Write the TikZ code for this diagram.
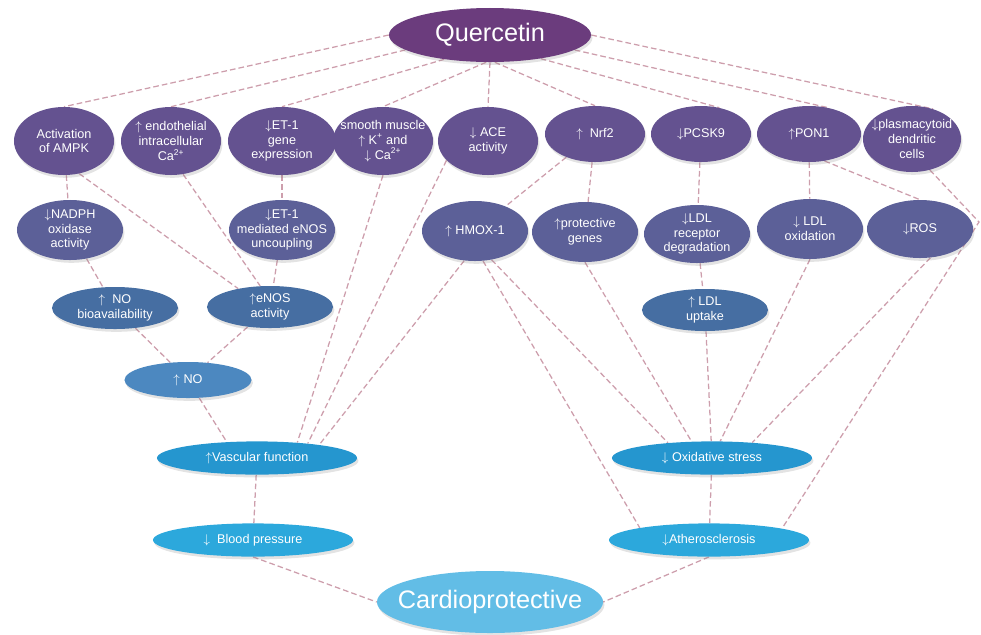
\documentclass[tikz,border=0pt]{standalone}
\usepackage{fontspec}
\setmainfont{Liberation Sans}
\usetikzlibrary{shapes.geometric}
\usetikzlibrary{shadows}
\usetikzlibrary{backgrounds}
\definecolor{qpurple}{RGB}{107,60,125}
\definecolor{ppurple}{RGB}{100,82,144}
\definecolor{bpurple}{RGB}{92,96,152}
\definecolor{steelb}{RGB}{70,110,162}
\definecolor{nob}{RGB}{76,136,192}
\definecolor{midb}{RGB}{37,150,207}
\definecolor{lowb}{RGB}{44,168,220}
\definecolor{cardb}{RGB}{98,189,230}
\definecolor{linkpink}{RGB}{205,158,172}
\tikzset{
    mynode/.style = {ellipse, inner xsep=-12pt, inner ysep=-5pt, text=white, align=center,
      font=\fontsize{9}{10.6}\selectfont,
      drop shadow={opacity=0.22,shadow xshift=1pt,shadow yshift=-2pt}},
    mynodeq/.style = {mynode, fill=qpurple, minimum width=5.05cm, minimum height=1.35cm,
      inner xsep=-25pt, font=\fontsize{18}{22}\selectfont},
    mynodep/.style = {mynode, fill=ppurple, minimum width=2.5cm, minimum height=1.7cm},
    mynodev/.style = {mynode, fill=bpurple, minimum width=2.65cm, minimum height=1.5cm},
    mynodes/.style = {mynode, fill=steelb, minimum width=3.15cm, minimum height=1.05cm},
    mynoden/.style = {mynode, fill=nob, minimum width=3.175cm, minimum height=0.9cm},
    mynodem/.style = {mynode, fill=midb, minimum width=5cm, minimum height=0.83cm},
    mynodel/.style = {mynode, fill=lowb, minimum width=5cm, minimum height=0.83cm},
    mynodec/.style = {mynode, fill=cardb, minimum width=5.65cm, minimum height=1.55cm,
      inner xsep=-25pt, font=\fontsize{18}{22}\selectfont},
    edged/.style = {draw=linkpink, line width=0.9pt, dash pattern=on 4pt off 2.2pt}
}

\begin{document}
\begin{tikzpicture}[x=0.025cm,y=-0.025cm]
\useasboundingbox (0,0) rectangle (981,634);

\node[mynodeq] (q) at (490,35) {Quercetin};

% first row
\node[mynodep] (ampk)   at (64,141)  {Activation\\of AMPK};
\node[mynodep] (endo)   at (171,141) {$\uparrow$ endothelial\\intracellular\\Ca\textsuperscript{2+}};
\node[mynodep, minimum width=2.7cm] (et1) at (282,141) {$\downarrow$ET-1\\gene\\expression};
\node[mynodep] (smooth) at (383,141) {smooth muscle\\$\uparrow$ K\textsuperscript{+} and\\$\downarrow$ Ca\textsuperscript{2+}};
\node[mynodep] (ace)    at (488,141) {$\downarrow$ ACE\\activity};
\node[mynodep, minimum height=1.4cm] (nrf2)  at (595,134) {$\uparrow$\ \ Nrf2};
\node[mynodep, minimum height=1.4cm] (pcsk9) at (701,134) {$\downarrow$PCSK9};
\node[mynodep, minimum height=1.4cm, minimum width=2.6cm] (pon1) at (809,134) {$\uparrow$PON1};
\node[mynodep, minimum height=1.65cm, minimum width=2.45cm] (pdc) at (912,139) {$\downarrow$plasmacytoid\\dendritic\\cells};

% second row
\node[mynodev] (nadph) at (70,230)  {$\downarrow$NADPH\\oxidase\\activity};
\node[mynodev] (et1m)  at (282,230) {$\downarrow$ET-1\\mediated eNOS\\uncoupling};
\node[mynodev] (hmox)  at (475,231) {$\uparrow$ HMOX-1};
\node[mynodev] (prot)  at (585,232) {$\uparrow$protective\\genes};
\node[mynodev, minimum height=1.45cm] (ldlr) at (697,234) {$\downarrow$LDL\\receptor\\degradation};
\node[mynodev] (ldlox) at (810,229) {$\downarrow$ LDL\\oxidation};
\node[mynodev, minimum height=1.45cm] (ros) at (920,229) {$\downarrow$ROS};

% third row
\node[mynodes] (nobio) at (115,308) {$\uparrow$\ \ NO\\bioavailability};
\node[mynodes] (enos)  at (270,307) {$\uparrow$eNOS\\activity};
\node[mynodes] (ldlu)  at (705,310) {$\uparrow$\ LDL\\uptake};
\node[mynoden] (no)    at (188,380) {$\uparrow$ NO};

\node[mynodem] (vasc) at (257,458) {$\uparrow$Vascular function};
\node[mynodem] (oxs)  at (712,458) {$\downarrow$ Oxidative stress};
\node[mynodel] (bp)   at (253,540) {$\downarrow$ \ Blood pressure};
\node[mynodel] (ath)  at (709,540) {$\downarrow$Atherosclerosis};
\node[mynodec] (cardio) at (490,602) {Cardioprotective};

\coordinate (bend) at (979,222);

\begin{scope}[on background layer]
\draw[edged] (q.west) -- (ampk.north);
\draw[edged] (q.190) -- (endo.north);
\draw[edged] (q.208) -- (et1.north);
\draw[edged] (q.262) -- (smooth.north);
\draw[edged] (q.south) -- (ace.north);
\draw[edged] (q.280) -- (nrf2.north);
\draw[edged] (q.335) -- (pcsk9.55);
\draw[edged] (q.350) -- (pon1.55);
\draw[edged] (q.east) -- (pdc.55);

\draw[edged] (ampk) -- (nadph);
\draw[edged] (ampk.295) -- (enos.150);
\draw[edged] (endo.290) -- (enos.115);
\draw[edged] (et1) -- (et1m);
\draw[edged] (et1m) -- (enos);
\draw[edged] (nadph) -- (nobio);
\draw[edged] (nobio) -- (no);
\draw[edged] (enos) -- (no);
\draw[edged] (no) -- (vasc.152);
\draw[edged] (smooth.south) -- (vasc.21);
\draw[edged] (ace.205) -- (vasc.16);
\draw[edged] (hmox.250) -- (vasc.12);
\draw[edged] (vasc) -- (bp);
\draw[edged] (bp.south) -- (cardio.west);

\draw[edged] (nrf2) -- (hmox);
\draw[edged] (nrf2) -- (prot);
\draw[edged] (hmox.300) -- (oxs.161);
\draw[edged] (hmox.285) -- (ath.170);
\draw[edged] (prot.south) -- (oxs.141);
\draw[edged] (pcsk9) -- (ldlr);
\draw[edged] (ldlr) -- (ldlu);
\draw[edged] (ldlu) -- (oxs);
\draw[edged] (pon1) -- (ldlox);
\draw[edged] (pon1.300) -- (ros.north);
\draw[edged] (ldlox.south) -- (oxs.64);
\draw[edged] (ros.290) -- (oxs.21);
\draw[edged] (pdc.300) -- (bend) -- (ath.9);
\draw[edged] (oxs) -- (ath);
\draw[edged] (ath.south) -- (cardio.east);
\end{scope}

\end{tikzpicture}
\end{document}
